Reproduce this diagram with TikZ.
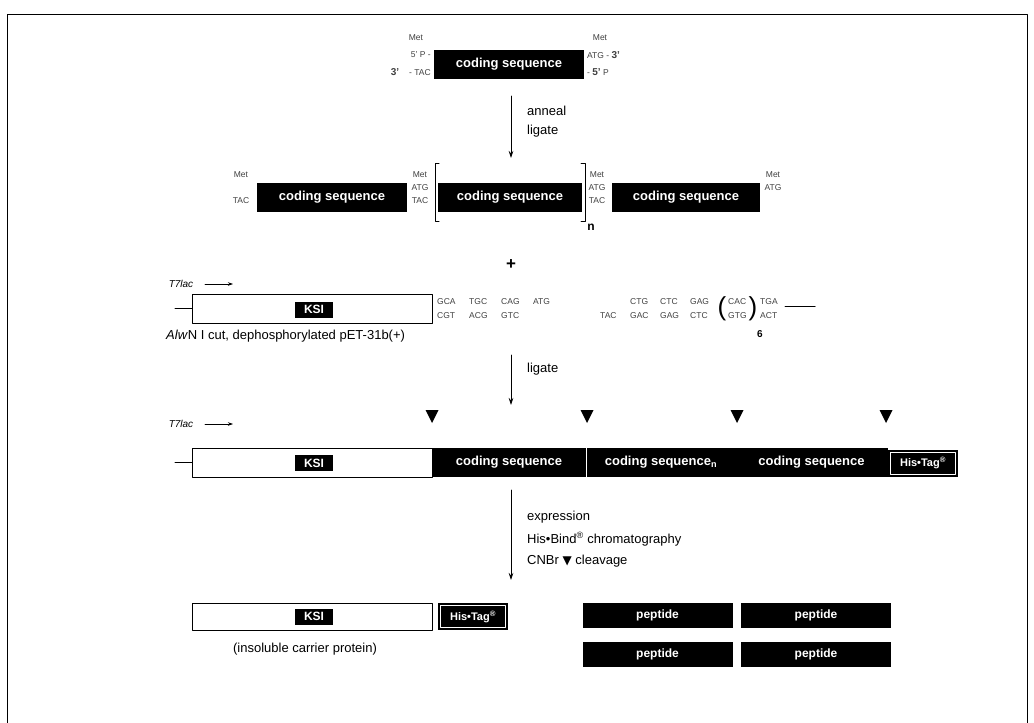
\documentclass[tikz,border=0pt]{standalone}
\usepackage{fontspec}
\setmainfont{Liberation Sans}
\newfontfamily\symfont{DejaVu Sans}
\usetikzlibrary{arrows.meta}
\newcommand\cnbrcut[1]{\fill ({#1-6.5},410)--({#1+6.5},410)--(#1,423)--cycle;}

\begin{document}
\begin{tikzpicture}[x=1pt,y=-1pt,line cap=round,line join=round,
  cds/.style={fill=black,text=white,inner sep=0pt,minimum height=29pt,font=\bfseries\fontsize{13}{15}\selectfont},
  vec/.style={draw=black,fill=white,line width=0.8pt,minimum width=240pt,minimum height=29pt,inner sep=0pt},
  ksi/.style={fill=black,text=white,inner sep=0pt,minimum width=38pt,minimum height=16pt,font=\bfseries\fontsize{12}{13}\selectfont},
  histag/.style={fill=black,text=white,inner sep=0pt,minimum width=70pt,minimum height=27pt,font=\bfseries\fontsize{11}{12}\selectfont,
    path picture={\draw[white,line width=0.9pt] ([shift={(2.5pt,-2.5pt)}]path picture bounding box.north west) rectangle ([shift={(-2.5pt,2.5pt)}]path picture bounding box.south east);}},
  pep/.style={fill=black,text=white,inner sep=0pt,minimum width=150pt,minimum height=25pt,font=\bfseries\fontsize{12}{13}\selectfont},
  nt/.style={font=\fontsize{8.5}{9}\selectfont,text=black!75,inner sep=0pt},
  lbl/.style={font=\fontsize{13}{15}\selectfont,anchor=west,inner sep=0pt},
  flow/.style={line width=0.7pt,-{Stealth[length=7pt,width=4.5pt]}},
  promo/.style={line width=0.7pt,-{Stealth[length=5pt,width=3.5pt]}}]
\useasboundingbox (0,0) rectangle (1034,723);
\draw[line width=1pt] (7,14) rectangle (1027,728);
% monomer
\node[cds,minimum width=150pt] (cs0) at (509,64) {coding sequence};
\node[nt] (m0a) at (416,38) {Met};\node[nt,anchor=east] (p0a) at (431,55) {5' P -};\node[nt,anchor=east] (p0b) at (431,72) {\fontsize{10}{10}\selectfont\bfseries 3'\quad\fontsize{8.5}{9}\selectfont\mdseries - TAC};
\node[nt] (m0b) at (600,38) {Met};\node[nt,anchor=west] (p0c) at (587,55) {ATG - \fontsize{10}{10}\selectfont\bfseries 3'};\node[nt,anchor=west] (p0d) at (587,72) {- \fontsize{10}{10}\selectfont\bfseries 5'\fontsize{8.5}{9}\selectfont\mdseries\ P};
\coordinate (a1s) at (511,96);\coordinate (a1e) at (511,158);
\draw[flow] (a1s)--(a1e);
\node[lbl] (t1a) at (527,111) {anneal};\node[lbl] (t1b) at (527,131) {ligate};
% concatemer
\node[cds,minimum width=150pt] (cs1) at (332,197.5) {coding sequence};
\node[cds,minimum width=144pt] (cs2) at (510,197.5) {coding sequence};
\node[cds,minimum width=148pt] (cs3) at (686,197.5) {coding sequence};
\node[nt] (m1a) at (241,175) {Met};\node[nt] (c1a) at (241,201) {TAC};
\foreach \px/\nm in {420/b,597/c}{\node[nt] (m1\nm) at (\px,175) {Met};\node[nt] (g1\nm) at (\px,188) {ATG};\node[nt] (c1\nm) at (\px,201) {TAC};}
\node[nt] (m1d) at (773,175) {Met};\node[nt] (g1d) at (773,188) {ATG};
\draw[line width=1pt] (439,163)--(435,163)--(435,221)--(439,221);
\draw[line width=1pt] (581,163)--(585,163)--(585,221)--(581,221);
\node[font=\fontsize{12}{12}\selectfont\bfseries,inner sep=0pt] (nrep) at (591,227) {n};
\node[font=\fontsize{17}{17}\selectfont\bfseries,inner sep=0pt] (plus) at (511,265) {+};
% vector
\node[font=\fontsize{10}{10}\selectfont\itshape,inner sep=0pt] (t7a) at (181,284) {T7lac};
\coordinate (t7as) at (205,284);\coordinate (t7ae) at (233,284);\draw[promo] (t7as)--(t7ae);
\node[vec] (ksiA) at (312,308.5) {};\node[ksi] (kA) at (314,309.5) {KSI};
\coordinate (stubA) at (175,308.5);\draw[line width=1pt] (stubA)--(ksiA.west);
\node[lbl,font=\fontsize{13}{15}\selectfont] (capA) at (166,336) {\textit{Alw}N I cut, dephosphorylated pET-31b(+)};
\foreach \c [count=\i] in {GCA,TGC,CAG,ATG}{\node[nt,anchor=west] (vt\i) at ({437+(\i-1)*32},302) {\c};}
\foreach \c [count=\i] in {CGT,ACG,GTC}{\node[nt,anchor=west] (vb\i) at ({437+(\i-1)*32},316) {\c};}
\foreach \c [count=\i] in {CTG,CTC,GAG}{\node[nt,anchor=west] (wt\i) at ({630+(\i-1)*30},302) {\c};}
\foreach \c [count=\i] in {TAC,GAC,GAG,CTC}{\node[nt,anchor=west] (wb\i) at ({600+(\i-1)*30},316) {\c};}
\node[font=\fontsize{26}{26}\selectfont,inner sep=0pt] (lpar) at (722,309) {(};
\node[nt,anchor=west] (ht) at (728,302) {CAC};\node[nt,anchor=west] (hb) at (728,316) {GTG};
\node[font=\fontsize{26}{26}\selectfont,inner sep=0pt] (rpar) at (753,309) {)};
\node[font=\fontsize{10}{10}\selectfont\bfseries,inner sep=0pt] (six) at (760,334) {6};
\node[nt,anchor=west] (st) at (760,302) {TGA};\node[nt,anchor=west] (sb) at (760,316) {ACT};
\coordinate (stubB) at (785,306);\coordinate (stubC) at (815,306);\draw[line width=1pt] (stubB)--(stubC);
\coordinate (a2s) at (511,355);\coordinate (a2e) at (511,405);
\draw[flow] (a2s)--(a2e);
\node[lbl] (t2a) at (527,369) {ligate};
% recombinant
\node[font=\fontsize{10}{10}\selectfont\itshape,inner sep=0pt] (t7b) at (181,424) {T7lac};
\coordinate (t7bs) at (205,424);\coordinate (t7be) at (233,424);\draw[promo] (t7bs)--(t7be);
\node[vec] (ksiB) at (312,462.5) {};\node[ksi] (kB) at (314,463) {KSI};
\coordinate (stubD) at (175,462.5);\draw[line width=1pt] (stubD)--(ksiB.west);
\node[cds,minimum width=154pt] (csA) at (509,462.5) {coding sequence};
\node[cds,minimum width=148pt] (csB) at (661,462.5) {coding sequence\textsubscript{n}};
\node[cds,minimum width=153pt] (csC) at (811.5,462.5) {coding sequence};
\draw[white,line width=0.8pt] (csA.north east)--(csA.south east);
\node[histag] (hisA) at (923,463) {His•Tag\textsuperscript{\textregistered}};
\foreach \cx in {432,587,737,886}{\cnbrcut{\cx}}
\coordinate (a3s) at (511,490);\coordinate (a3e) at (511,580);
\draw[flow] (a3s)--(a3e);
\node[lbl] (t3a) at (527,517) {expression};
\node[lbl] (t3b) at (527,539) {His•Bind\textsuperscript{\textregistered} chromatography};
\node[lbl] (t3c) at (527,561) {CNBr {\symfont\fontsize{12}{12}\selectfont ▼} cleavage};
% products
\node[vec,minimum height=27pt] (ksiC) at (312,616.5) {};\node[ksi] (kC) at (314,616.5) {KSI};
\node[histag] (hisB) at (473,616.5) {His•Tag\textsuperscript{\textregistered}};
\node[lbl,anchor=center] (capC) at (305,649) {(insoluble carrier protein)};
\node[pep] (pep1) at (657.5,615.5) {peptide};\node[pep] (pep2) at (816,615.5) {peptide};
\node[pep] (pep3) at (657.5,654.5) {peptide};\node[pep] (pep4) at (816,654.5) {peptide};
\end{tikzpicture}
\end{document}
